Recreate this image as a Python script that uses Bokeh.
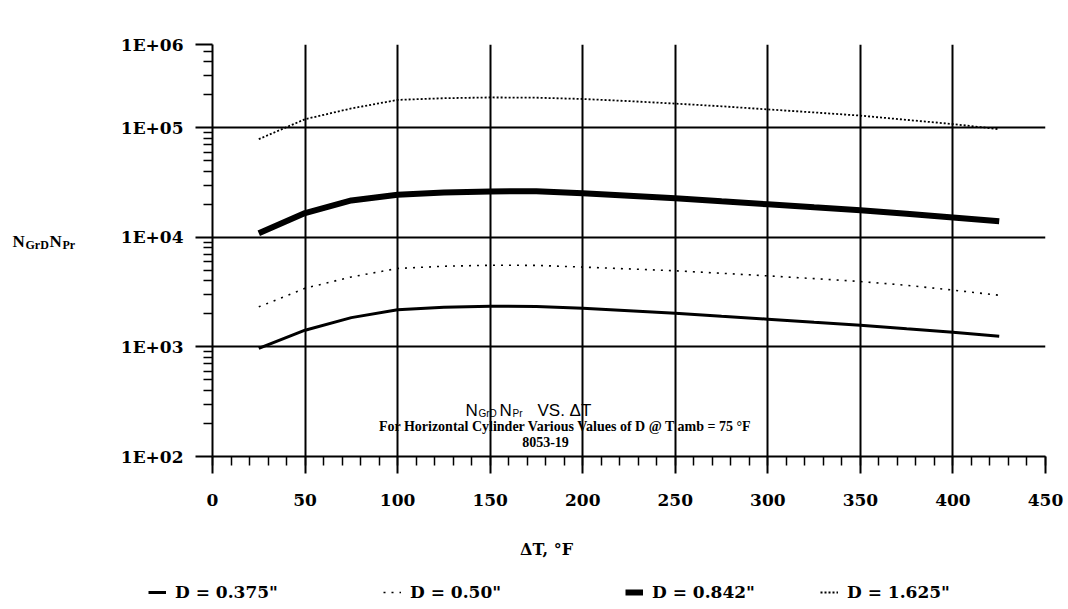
from bokeh.plotting import figure
from bokeh.layouts import row, column
from bokeh.models import FixedTicker, Range1d, Label, Legend, LegendItem
from bokeh.embed import file_html
from bokeh.resources import INLINE

# ---------------- data ----------------
delta_t = [25, 50, 75, 100, 125, 150, 175, 200, 225, 250, 275, 300, 325, 350, 375, 400, 425]
n_d0375 = [970, 1420, 1850, 2180, 2300, 2350, 2340, 2255, 2140, 2030, 1900, 1790, 1680, 1580, 1465, 1360, 1250]
n_d050 = [2320, 3430, 4350, 5200, 5450, 5560, 5550, 5350, 5150, 4950, 4700, 4450, 4200, 3950, 3650, 3300, 2960]
n_d0842 = [10900, 16650, 21700, 24500, 25700, 26250, 26300, 25300, 24000, 22700, 21300, 20000, 18800, 17700, 16400, 15200, 14000]
n_d1625 = [78700, 119700, 150000, 179500, 186000, 189000, 188000, 183000, 175000, 166000, 157000, 147000,
           138000, 129000, 118000, 108000, 97000]

x_ticks = [0, 50, 100, 150, 200, 250, 300, 350, 400, 450]
x_minor = list(range(0, 451, 10))
y_top = 575000
y_ticks = [100, 1000, 10000, 100000, y_top]
y_tick_labels = ["1E+02", "1E+03", "1E+04", "1E+05", "1E+06"]
y_minor = [k * 10 ** e for e in range(2, 6) for k in range(2, 10) if k * 10 ** e < y_top]

legend_labels = ['D = 0.375"', 'D = 0.50"', 'D = 0.842"', 'D = 1.625"']

# ---------------- layout constants ----------------
W, H = 1068, 609
LEFT_W = 110            # width of the left strip holding the y label
MAIN_H = 525            # height of the main chart
FL, FR, FT, FB = 212, 1045, 44, 456   # frame edges in canvas pixels

TICK_FONT = "DejaVu Serif"
SERIF = "Liberation Serif"
SANS = "Liberation Sans"


def blank(width, height):
    f = figure(width=width, height=height, output_backend="svg", toolbar_location=None,
               x_range=Range1d(0, width), y_range=Range1d(0, height),
               min_border=0, x_axis_type=None, y_axis_type=None)
    f.outline_line_color = None
    f.grid.visible = False
    f.background_fill_color = "white"
    f.border_fill_color = "white"
    return f


p = figure(width=W - LEFT_W, height=MAIN_H, output_backend="svg", toolbar_location=None,
           x_range=Range1d(0, 450), y_range=Range1d(100, y_top), y_axis_type="log",
           min_border_left=FL - LEFT_W, min_border_right=W - FR, min_border_top=FT,
           min_border_bottom=MAIN_H - FB)
p.outline_line_color = None
p.background_fill_color = "white"
p.border_fill_color = "white"

for ax in (p.xaxis[0], p.yaxis[0]):
    ax.axis_line_color = "black"
    ax.axis_line_width = 2
    ax.major_tick_line_color = "black"
    ax.major_tick_line_width = 2
    ax.minor_tick_line_color = "black"
    ax.minor_tick_line_width = 1.5
    ax.major_tick_in = 0
    ax.major_tick_out = 17
    ax.minor_tick_in = 0
    ax.minor_tick_out = 9
    ax.major_label_text_font = TICK_FONT
    ax.major_label_text_font_style = "bold"
    ax.major_label_text_font_size = "17px"
    ax.major_label_text_color = "black"

p.xaxis[0].ticker = FixedTicker(ticks=x_ticks, minor_ticks=x_minor)
p.xaxis[0].major_label_standoff = 20
p.yaxis[0].ticker = FixedTicker(ticks=y_ticks, minor_ticks=y_minor)
p.yaxis[0].major_label_overrides = {t: s for t, s in zip(y_ticks, y_tick_labels)}
p.yaxis[0].major_label_standoff = 12

p.xgrid[0].ticker = FixedTicker(ticks=x_ticks[1:])
p.ygrid[0].ticker = FixedTicker(ticks=y_ticks[1:4])
for g in (p.xgrid[0], p.ygrid[0]):
    g.grid_line_color = "black"
    g.grid_line_width = 2
    g.grid_line_alpha = 1

styles = [dict(line_width=3), dict(line_width=1.6, line_dash="2 6"),
          dict(line_width=6), dict(line_width=1.8, line_dash="2 2")]
series = [n_d0375, n_d050, n_d0842, n_d1625]
for s, st in zip(series, styles):
    p.line(delta_t, s, line_color="black", **st)


def flab(fig, text, sx, sy, size, font=SERIF, style="bold", align="left", baseline="middle"):
    fig.add_layout(Label(x=sx, y=sy, x_units="screen", y_units="screen", text=text,
                         text_font=font, text_font_style=style, text_font_size=size,
                         text_align=align, text_baseline=baseline, text_color="black"))


def lab(text, px, py, size, **kw):
    flab(p, text, px - FL, FB - py, size, **kw)


# chart title block (inside the plot area)
lab("N", 465, 410, "17px", font=SANS, style="normal")
lab("GrD", 478, 413, "10px", font=SANS, style="normal")
lab("N", 499, 410, "17px", font=SANS, style="normal")
lab("Pr", 512, 413, "10px", font=SANS, style="normal")
lab("VS.  ΔT", 537, 410, "17px", font=SANS, style="normal")
lab("For Horizontal Cylinder Various Values of D @ T amb = 75 °F", 565, 426, "14px", align="center")
lab("8053-19", 545, 441, "14px", align="center")

# ---- left strip: y-axis label N_GrD N_Pr (its frame is aligned with the chart frame)
left = blank(LEFT_W, MAIN_H)


def llab(text, px, py, size, **kw):
    flab(left, text, px, FB - py, size, **kw)


llab("N", 12, 241, "17px")
llab("GrD", 25, 244, "12px")
llab("N", 49, 241, "17px")
llab("Pr", 62, 244, "12px")

# ---- bottom strip: x-axis label and legend
BOT_H = H - MAIN_H
bottom = blank(W, BOT_H)


def blab(text, px, py, size, **kw):
    flab(bottom, text, px, BOT_H - (py - MAIN_H), size, **kw)


blab("ΔT, °F", 546, 549, "16px", font=TICK_FONT, align="center")

leg_x = [148, 383, 625, 820]
for lx, lab_text, s, st in zip(leg_x, legend_labels, series, styles):
    # invisible proxy of the series, only used to draw the legend sample
    r = bottom.line(delta_t, s, line_color="black", visible=False, **st)
    lg = Legend(items=[LegendItem(label=lab_text, renderers=[r])],
                location=(lx, BOT_H - (602 - MAIN_H)),
                orientation="horizontal", border_line_color=None, background_fill_alpha=0,
                padding=0, margin=0, glyph_width=18, glyph_height=18, label_standoff=9,
                label_text_font=TICK_FONT, label_text_font_style="bold",
                label_text_font_size="17px", label_text_color="black", click_policy="none")
    bottom.add_layout(lg)

layout = column(row(left, p, spacing=0), bottom, spacing=0)
open("out.html", "w").write(file_html(layout, INLINE))
